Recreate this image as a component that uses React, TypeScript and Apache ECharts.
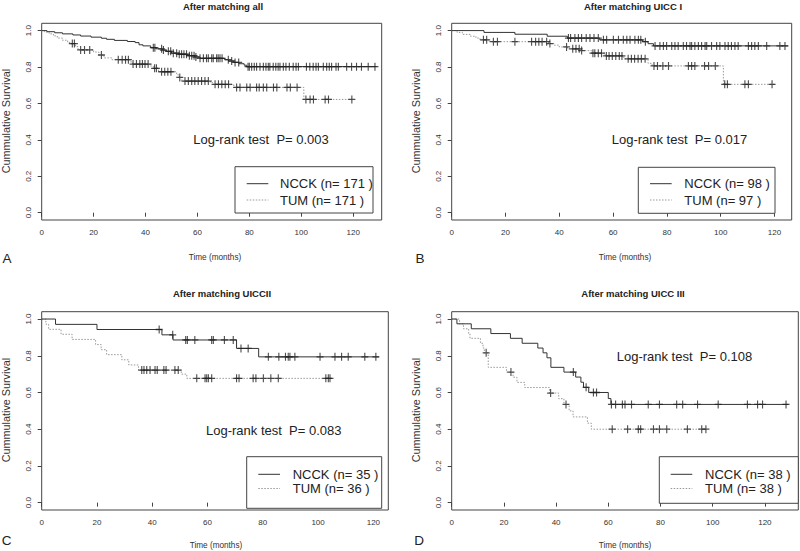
import React, { useEffect, useRef } from "react";
import * as echarts from "echarts";

// ---------- data ----------
const ticksX = [0, 20, 40, 60, 80, 100, 120];
const ticksY = [0, 0.2, 0.4, 0.6, 0.8, 1.0];

const titles = ["After matching all", "After matching UICC I", "After matching UICCII", "After matching UICC III"];
const panelLetters = ["A", "B", "C", "D"];
const pValues = ["0.003", "0.017", "0.083", "0.108"];
const nNCCK = [171, 98, 35, 38];
const nTUM = [171, 97, 36, 38];
const xMax = [131, 126.4, 125.4, 132.8];

// step curves: [time, survival after time]
const nccA: [number, number][] = [[0, 1], [2, 0.994], [5, 0.988], [8, 0.982], [12, 0.976], [15, 0.970], [19, 0.964], [23, 0.958], [25, 0.952], [28, 0.946], [33, 0.940], [36, 0.934], [37.5, 0.922], [39, 0.916], [42, 0.906], [44, 0.900], [46.5, 0.893], [48, 0.886], [50, 0.876], [53, 0.870], [56, 0.862], [59, 0.855], [61, 0.848], [70.5, 0.840], [72, 0.833], [74, 0.825], [76, 0.818], [78, 0.810], [79, 0.802], [129, 0.802]];
const nccACens = [43.0, 43.6, 46.2, 46.9, 48.8, 49.7, 50.7, 52.0, 53.0, 53.9, 54.8, 55.8, 56.9, 57.8, 58.7, 59.4, 61.0, 62.3, 63.5, 64.2, 65.5, 66.1, 67.4, 68.0, 68.7, 69.5, 71.9, 73.2, 74.5, 75.9, 79.5, 80.0, 80.9, 81.9, 82.8, 84.1, 85.4, 86.4, 87.3, 87.9, 89.2, 90.2, 91.1, 91.8, 93.1, 94.1, 95.4, 96.9, 98.0, 98.9, 102.0, 103.3, 104.6, 105.7, 106.6, 108.5, 109.8, 110.8, 111.7, 113.4, 114.3, 117.5, 119.4, 121.3, 123.2, 125.8, 128.4];
const tumA: [number, number][] = [[0, 1], [1, 0.994], [2, 0.988], [3, 0.982], [4.5, 0.971], [6, 0.959], [8, 0.947], [10, 0.935], [11, 0.929], [13, 0.912], [14, 0.894], [20, 0.882], [22, 0.866], [24, 0.850], [27, 0.840], [34, 0.828], [35, 0.816], [42, 0.805], [43, 0.793], [45, 0.774], [52, 0.757], [53, 0.743], [54, 0.723], [65, 0.714], [66, 0.705], [74, 0.688], [101, 0.622], [120, 0.622]];
const tumACens = [11.8, 12.6, 15.0, 16.5, 18.5, 23.0, 29.5, 31.0, 32.3, 33.4, 35.2, 36.5, 37.8, 38.8, 39.8, 41.0, 43.5, 44.2, 46.2, 47.4, 48.6, 49.8, 53.2, 55.2, 56.5, 57.8, 59.0, 60.3, 61.6, 62.9, 64.2, 66.8, 68.1, 69.4, 70.7, 72.0, 75.1, 76.4, 79.0, 80.3, 82.8, 83.8, 85.4, 86.7, 89.3, 90.6, 94.5, 95.8, 98.4, 101.8, 103.4, 104.7, 109.2, 110.5, 119.5];

const nccB: [number, number][] = [[0, 1], [12, 0.990], [23.5, 0.980], [35.5, 0.969], [43, 0.959], [55, 0.949], [71, 0.939], [73, 0.928], [75, 0.916], [125, 0.916]];
const nccBCens = [43.4, 44.2, 45.8, 47.1, 48.3, 50.0, 51.4, 52.9, 54.5, 56.4, 57.6, 60.1, 62.0, 63.8, 65.1, 66.3, 68.1, 69.4, 70.3, 72.0, 75.6, 77.4, 78.7, 79.9, 81.8, 83.0, 84.2, 86.1, 87.3, 88.6, 89.2, 90.4, 91.7, 92.9, 94.2, 94.8, 96.6, 98.5, 99.7, 101.6, 102.8, 104.0, 105.3, 106.5, 110.3, 111.5, 112.7, 114.0, 117.1, 122.0, 123.9];
const tumB: [number, number][] = [[0, 1], [2, 0.990], [4, 0.979], [7, 0.969], [9, 0.959], [10.5, 0.949], [14, 0.939], [36, 0.929], [38, 0.920], [40, 0.910], [43, 0.900], [48, 0.890], [52, 0.876], [57, 0.861], [64, 0.845], [73, 0.820], [74.5, 0.806], [101, 0.705], [120, 0.705]];
const tumBCens = [11.8, 13.0, 15.5, 17.0, 23.5, 29.7, 31.2, 32.4, 33.6, 35.3, 36.5, 42.7, 45.0, 46.2, 47.4, 48.3, 52.5, 53.2, 54.5, 55.7, 57.5, 58.5, 59.7, 61.0, 62.3, 63.3, 65.6, 66.8, 68.0, 69.3, 70.5, 71.9, 75.2, 76.5, 78.5, 80.6, 88.0, 89.2, 90.4, 94.0, 95.5, 98.0, 101.5, 102.5, 109.0, 110.3, 119.1];

const nccC: [number, number][] = [[0, 1], [5, 0.971], [20, 0.943], [43.5, 0.914], [47.5, 0.886], [70.5, 0.840], [78.5, 0.794], [122, 0.794]];
const nccCCens = [42.5, 47.4, 52.1, 52.7, 55.4, 61.5, 62.1, 66.1, 69.3, 72.1, 74.7, 82.0, 85.8, 88.2, 89.2, 89.8, 91.6, 100.7, 106.1, 108.5, 110.9, 116.9, 120.9];
const tumC: [number, number][] = [[0, 1], [1.5, 0.972], [2.5, 0.944], [7, 0.917], [11, 0.889], [19.5, 0.861], [21.5, 0.833], [23.5, 0.806], [29, 0.778], [31.5, 0.750], [35, 0.722], [50.5, 0.700], [52.5, 0.677], [105, 0.677]];
const tumCCens = [36.2, 37.0, 38.0, 39.2, 41.0, 41.8, 44.2, 45.0, 48.2, 49.4, 56.1, 59.1, 59.7, 60.3, 61.5, 70.5, 71.4, 76.5, 77.5, 80.2, 82.9, 85.6, 102.8, 103.7, 104.3];

const nccD: [number, number][] = [[0, 1], [2, 0.974], [7.5, 0.947], [15, 0.921], [22.5, 0.895], [27, 0.868], [33, 0.842], [35, 0.816], [36.5, 0.789], [38, 0.737], [43, 0.711], [47.5, 0.684], [49.5, 0.656], [50.5, 0.628], [52.5, 0.600], [60, 0.567], [61, 0.535], [129, 0.535]];
const nccDCens = [46.6, 51.5, 54.3, 55.5, 61.2, 62.8, 65.4, 66.4, 68.9, 75.3, 79.6, 86.2, 88.5, 94.2, 102.1, 113.3, 117.2, 119.1, 128.1];
const tumD: [number, number][] = [[0, 1], [3, 0.974], [4.5, 0.947], [6.5, 0.921], [7, 0.895], [11, 0.868], [12, 0.842], [12.5, 0.816], [14, 0.737], [21, 0.711], [23.5, 0.683], [25, 0.655], [28, 0.627], [37.5, 0.597], [41, 0.566], [43, 0.535], [45, 0.500], [46.5, 0.467], [52, 0.433], [53.5, 0.400], [98, 0.400]];
const tumDCens = [13.2, 22.7, 37.9, 43.8, 61.5, 67.4, 71.5, 72.4, 77.3, 79.6, 82.4, 90.3, 95.8, 97.4];

const nccSteps = [nccA, nccB, nccC, nccD];
const nccCens = [nccACens, nccBCens, nccCCens, nccDCens];
const tumSteps = [tumA, tumB, tumC, tumD];
const tumCens = [tumACens, tumBCens, tumCCens, tumDCens];

// ---------- layout ----------
const FONT = '"Liberation Sans", Arial, Helvetica, sans-serif';
const grids = [
  { left: 41.7, top: 23.3, width: 340, height: 196.7 },
  { left: 451.7, top: 23.3, width: 340, height: 196.7 },
  { left: 41.7, top: 311.7, width: 346.6, height: 198.3 },
  { left: 451.7, top: 311.7, width: 346.6, height: 198.3 },
];
const titlePos = [[223, 6], [633, 6], [222, 293.5], [633, 293.5]];
const yNamePos = [[6, 121], [416, 121], [6, 410], [416, 410]];
const xNamePos = [[215, 257], [625, 257], [216, 545], [625, 545]];
const letterPos = [[7, 258.5], [420, 258.5], [6.5, 540], [419, 540]];
const logRankPos = [[193.3, 139.3], [611.7, 139.3], [206, 430], [616.7, 356.7]];
const legendPos = [
  { x: 235, y: 166.7, w: 138, h: 46.3, l0: 246.7, l1: 268.3, tx: 280, r1: 183.7, r2: 200 },
  { x: 638.3, y: 167.3, w: 136.7, h: 46, l0: 650, l1: 671.7, tx: 684.3, r1: 183.7, r2: 200 },
  { x: 246.7, y: 456.7, w: 135, h: 51.6, l0: 258.3, l1: 280, tx: 292.7, r1: 474.3, r2: 488.5 },
  { x: 659.3, y: 456.7, w: 139, h: 46.6, l0: 670.7, l1: 692.3, tx: 705, r1: 474.3, r2: 488.5 },
];

const PLUS = "path://M4.2 0H5.8V4.2H10V5.8H5.8V10H4.2V5.8H0V4.2H4.2Z";

function survAt(steps: [number, number][], t: number): number {
  let s = steps[0][1];
  for (const [tt, ss] of steps) {
    if (tt <= t) s = ss;
    else break;
  }
  return s;
}

function buildOption() {
  const grid: any[] = [];
  const xAxis: any[] = [];
  const yAxis: any[] = [];
  const series: any[] = [];
  const graphic: any[] = [];

  for (let i = 0; i < 4; i++) {
    grid.push({ ...grids[i], show: true, borderColor: "#444", borderWidth: 1, backgroundColor: "transparent", containLabel: false });
    xAxis.push({
      gridIndex: i, type: "value", min: 0, max: xMax[i],
      axisLine: { show: false },
      axisTick: { show: true, customValues: ticksX, length: 4, lineStyle: { color: "#444", width: 1 } },
      axisLabel: { customValues: ticksX, fontSize: 8, color: "#333", margin: 8, fontFamily: FONT },
      splitLine: { show: false },
    });
    yAxis.push({
      gridIndex: i, type: "value", min: -0.04, max: 1.04,
      axisLine: { show: false },
      axisTick: { show: true, customValues: ticksY, length: 4, lineStyle: { color: "#444", width: 1 } },
      axisLabel: { customValues: ticksY, fontSize: 8, color: "#333", margin: 9, rotate: 90, fontFamily: FONT, formatter: (v: number) => v.toFixed(1) },
      splitLine: { show: false },
    });
    series.push({
      type: "line", xAxisIndex: i, yAxisIndex: i, step: "end", showSymbol: false, silent: true,
      data: nccSteps[i], lineStyle: { color: "#333", width: 1 }, z: 3,
    });
    series.push({
      type: "line", xAxisIndex: i, yAxisIndex: i, step: "end", showSymbol: false, silent: true,
      data: tumSteps[i], lineStyle: { color: "#999", width: 1, type: [1.5, 1.5] }, z: 2,
    });
    series.push({
      type: "scatter", xAxisIndex: i, yAxisIndex: i, symbol: PLUS, symbolSize: [7, 8], silent: true,
      data: nccCens[i].map((t) => [t, survAt(nccSteps[i], t)]), itemStyle: { color: "#222" }, z: 4,
    });
    series.push({
      type: "scatter", xAxisIndex: i, yAxisIndex: i, symbol: PLUS, symbolSize: [7, 8], silent: true,
      data: tumCens[i].map((t) => [t, survAt(tumSteps[i], t)]), itemStyle: { color: "#222" }, z: 4,
    });

    graphic.push({
      type: "text", x: titlePos[i][0], y: titlePos[i][1],
      style: { text: titles[i], fontSize: 9.5, fontWeight: "bold", fontFamily: FONT, fill: "#222", align: "center", verticalAlign: "middle" },
    });
    graphic.push({
      type: "text", x: yNamePos[i][0], y: yNamePos[i][1], rotation: Math.PI / 2,
      style: { text: "Cummulative Survival", fontSize: 10.8, fontFamily: FONT, fill: "#333", align: "center", verticalAlign: "middle" },
    });
    graphic.push({
      type: "text", x: xNamePos[i][0], y: xNamePos[i][1],
      style: { text: "Time (months)", fontSize: 8.2, fontFamily: FONT, fill: "#333", align: "center", verticalAlign: "middle" },
    });
    graphic.push({
      type: "text", x: letterPos[i][0], y: letterPos[i][1],
      style: { text: panelLetters[i], fontSize: 13.5, fontFamily: FONT, fill: "#222", align: "center", verticalAlign: "middle" },
    });
    graphic.push({
      type: "text", x: logRankPos[i][0], y: logRankPos[i][1],
      style: { text: "Log-rank test  P= " + pValues[i], fontSize: 13, fontFamily: FONT, fill: "#222", align: "left", verticalAlign: "middle" },
    });
    const lg = legendPos[i];
    graphic.push({
      type: "rect", shape: { x: lg.x, y: lg.y, width: lg.w, height: lg.h },
      style: { fill: "#fff", stroke: "#444", lineWidth: 1 }, z: 10,
    });
    graphic.push({
      type: "line", shape: { x1: lg.l0, y1: lg.r1, x2: lg.l1, y2: lg.r1 },
      style: { stroke: "#333", lineWidth: 1 }, z: 11,
    });
    graphic.push({
      type: "line", shape: { x1: lg.l0, y1: lg.r2, x2: lg.l1, y2: lg.r2 },
      style: { stroke: "#999", lineWidth: 1, lineDash: [1.5, 1.5] }, z: 11,
    });
    graphic.push({
      type: "text", x: lg.tx, y: lg.r1, z: 11,
      style: { text: "NCCK (n= " + nNCCK[i] + " )", fontSize: 13, fontFamily: FONT, fill: "#222", align: "left", verticalAlign: "middle" },
    });
    graphic.push({
      type: "text", x: lg.tx, y: lg.r2, z: 11,
      style: { text: "TUM (n= " + nTUM[i] + " )", fontSize: 13, fontFamily: FONT, fill: "#222", align: "left", verticalAlign: "middle" },
    });
  }

  return { animation: false, backgroundColor: "#fff", grid, xAxis, yAxis, series, graphic };
}

export default function App() {
  const ref = useRef<HTMLDivElement>(null);
  useEffect(() => {
    if (!ref.current) return;
    const chart = echarts.init(ref.current, undefined, { renderer: "svg" });
    chart.setOption(buildOption() as any);
    return () => chart.dispose();
  }, []);
  return <div ref={ref} style={{ position: "absolute", left: 0, top: 0, width: 800, height: 551 }} />;
}
